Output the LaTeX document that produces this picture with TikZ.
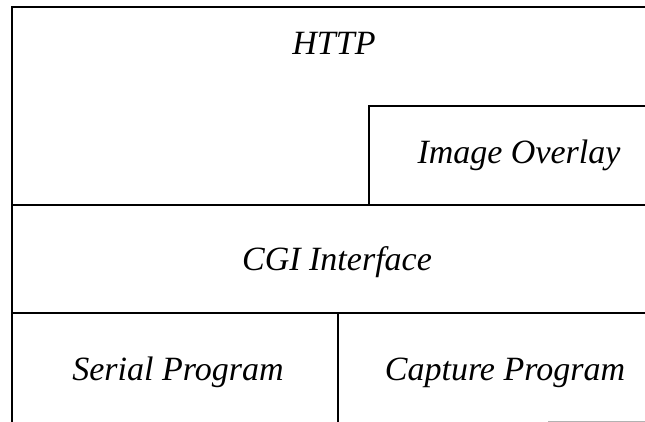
\documentclass[tikz,border=0pt]{standalone}
\usepackage{fontspec}
\newfontfamily\labelfont{Liberation Serif}
\begin{document}
\begin{tikzpicture}[x=1pt,y=-1pt,
  layer/.style={line width=1.9pt,black},
  lbl/.style={anchor=base,inner sep=0pt,font=\labelfont\itshape\fontsize{34}{39}\selectfont}]
\useasboundingbox (0,0) rectangle (645,422);
\coordinate (tl) at (12,7);
\coordinate (tr) at (645,7);
\coordinate (bl) at (12,422);
\coordinate (ovl) at (369,106);
\coordinate (ovr) at (645,106);
\coordinate (ovb) at (369,205);
\coordinate (cgl) at (12,205);
\coordinate (cgr) at (645,205);
\coordinate (pl) at (12,313);
\coordinate (pr) at (645,313);
\coordinate (pt) at (338,313);
\coordinate (pb) at (338,422);
\coordinate (gl) at (548,421);
\coordinate (gr) at (645,421);
\draw[layer] (bl) -- (tl) -- (tr);
\draw[layer] (ovb) -- (ovl) -- (ovr);
\draw[layer] (cgl) -- (cgr);
\draw[layer] (pl) -- (pr);
\draw[layer] (pt) -- (pb);
\draw[gray!60,line width=0.8pt] (gl) -- (gr);
\node[lbl] (http) at (334,55) {HTTP};
\node[lbl] (overlay) at (519,164) {Image Overlay};
\node[lbl] (cgi) at (337,270) {CGI Interface};
\node[lbl] (serial) at (178,380) {Serial Program};
\node[lbl] (capture) at (505,380) {Capture Program};
\end{tikzpicture}
\end{document}
